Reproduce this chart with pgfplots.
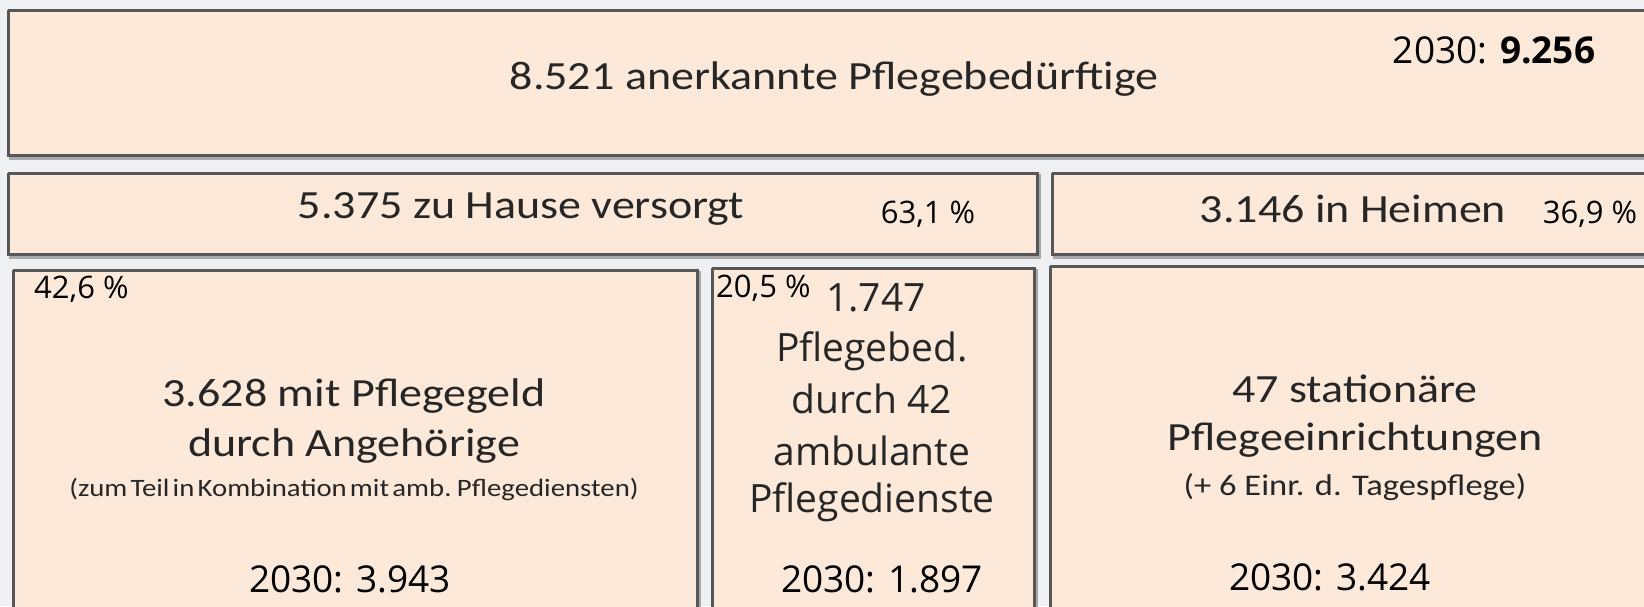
\documentclass[border=0pt]{standalone}
\usepackage{pgfplots}
\pgfplotsset{compat=1.18}
\usepackage{fontspec}
\setmainfont{Carlito}
\newfontfamily\calib{Carlito}
\newfontfamily\calibn[FakeStretch=1.15,WordSpace=0.5]{Carlito}
\newfontfamily\osans{Open Sans}
\definecolor{bg}{HTML}{EEF0F2}
\definecolor{boxfill}{HTML}{FDE9D9}
\definecolor{boxline}{HTML}{575757}
\definecolor{shadow}{HTML}{A8A8A8}
\definecolor{txt}{HTML}{262626}
\newcommand{\fs}[1]{\fontsize{#1}{#1}\selectfont}
\newcommand{\wide}[1]{\scalebox{1.15}[1]{#1}}
\begin{document}
\begin{tikzpicture}
\begin{axis}[
  width=1644pt, height=606pt, scale only axis,
  xmin=0, xmax=1644, ymin=0, ymax=606, y dir=reverse,
  hide axis, clip=true,
  every axis plot/.style={line join=miter},
  box/.style={draw=boxline, line width=3pt, fill=boxfill},
  shade/.style={draw=shadow, line width=3pt},
]
% background
\addplot[draw=none, fill=bg] coordinates {(0,0) (1644,0) (1644,606) (0,606) (0,0)};
% shadows
\addplot[shade] coordinates {(10,12) (1662,12) (1662,158) (10,158) (10,12)};
\addplot[shade] coordinates {(10,175) (1039,175) (1039,257) (10,257) (10,175)};
\addplot[shade] coordinates {(1054,175) (1662,175) (1662,257) (1054,257) (1054,175)};
\addplot[shade] coordinates {(15,272) (699,272) (699,622) (15,622) (15,272)};
\addplot[shade] coordinates {(714,270) (1036,270) (1036,622) (714,622) (714,270)};
\addplot[shade] coordinates {(1052,268) (1662,268) (1662,622) (1052,622) (1052,268)};
% boxes
\addplot[box] coordinates {(8,10) (1660,10) (1660,155) (8,155) (8,10)};
\addplot[box] coordinates {(8,173) (1037,173) (1037,254) (8,254) (8,173)};
\addplot[box] coordinates {(1052,173) (1660,173) (1660,254) (1052,254) (1052,173)};
\addplot[box] coordinates {(13,270) (697,270) (697,620) (13,620) (13,270)};
\addplot[box] coordinates {(712,268) (1034,268) (1034,620) (712,620) (712,268)};
\addplot[box] coordinates {(1050,266) (1660,266) (1660,620) (1050,620) (1050,266)};

% texts
\node[txt, font=\calib\fs{40}] at (axis cs:834,79) {\wide{8.521 anerkannte Pflegebedürftige}};
\node[black, font=\osans\fs{37}] at (axis cs:1494,50) {2030: \textbf{9.256}};

\node[txt, font=\calib\fs{40}] at (axis cs:521,209) {\wide{5.375 zu Hause versorgt}};
\node[black, font=\osans\fs{31}] at (axis cs:928,214) {63,1 \%};
\node[txt, font=\calib\fs{40}] at (axis cs:1353,209) {\wide{3.146 in Heimen}};
\node[black, font=\osans\fs{31}] at (axis cs:1590,214) {36,9 \%};

\node[black, font=\osans\fs{31}, anchor=west, inner sep=0pt] at (axis cs:34,289) {42,6 \%};
\node[txt, font=\calib\fs{40}] at (axis cs:354,396) {\wide{3.628 mit Pflegegeld}};
\node[txt, font=\calib\fs{40}] at (axis cs:354,446) {\wide{durch Angehörige}};
\node[txt, font=\calibn\fs{25}] at (axis cs:354,489) {(zum Teil in Kombination mit amb. Pflegediensten)};
\node[black, font=\osans\fs{37}] at (axis cs:350,579) {2030: 3.943};

\node[black, font=\osans\fs{31}, anchor=west, inner sep=0pt] at (axis cs:716,288) {20,5 \%};
\node[txt, font=\osans\fs{39}] at (axis cs:876,298) {1.747};
\node[txt, font=\osans\fs{39}] at (axis cs:872,351) {Pflegebed.};
\node[txt, font=\osans\fs{39}] at (axis cs:872,399) {durch 42};
\node[txt, font=\osans\fs{39}] at (axis cs:872,451) {ambulante};
\node[txt, font=\osans\fs{39}] at (axis cs:872,502) {Pflegedienste};
\node[black, font=\osans\fs{37}] at (axis cs:882,579) {2030: 1.897};

\node[txt, font=\calib\fs{40}] at (axis cs:1355,389) {\wide{47 stationäre}};
\node[txt, font=\calib\fs{40}] at (axis cs:1355,440) {\wide{Pflegeeinrichtungen}};
\node[txt, font=\calib\fs{30}] at (axis cs:1355,487) {\wide{(+ 6 Einr. d. Tagespflege)}};
\node[black, font=\osans\fs{37}] at (axis cs:1330,577) {2030: 3.424};
\end{axis}
\end{tikzpicture}
\end{document}
